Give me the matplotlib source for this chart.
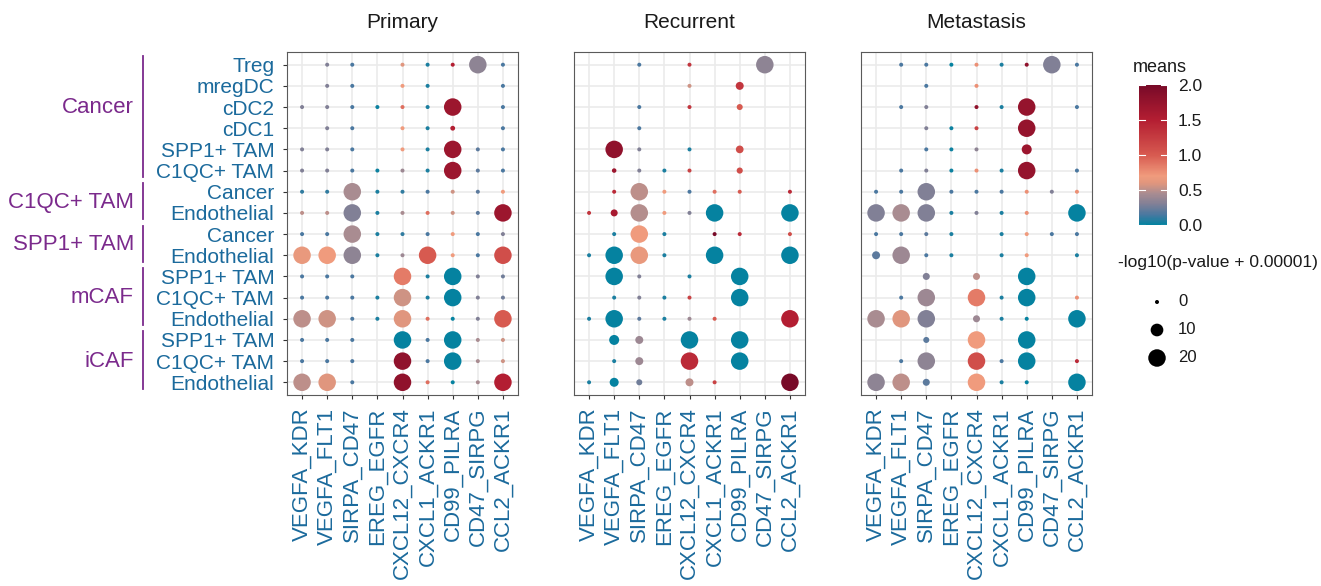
import numpy as np
import matplotlib
matplotlib.use('Agg')
import matplotlib.pyplot as plt
from matplotlib.colors import LinearSegmentedColormap, Normalize
from matplotlib import transforms
from matplotlib.cm import ScalarMappable

plt.rcParams['font.family'] = ['Liberation Sans', 'DejaVu Sans']

na = np.nan

# ---- data ----
panels = ['Primary', 'Recurrent', 'Metastasis']
pairs = ['VEGFA_KDR', 'VEGFA_FLT1', 'SIRPA_CD47', 'EREG_EGFR', 'CXCL12_CXCR4',
         'CXCL1_ACKR1', 'CD99_PILRA', 'CD47_SIRPG', 'CCL2_ACKR1']
row_labels = ['Treg', 'mregDC', 'cDC2', 'cDC1', 'SPP1+ TAM', 'C1QC+ TAM',
              'Cancer', 'Endothelial', 'Cancer', 'Endothelial',
              'SPP1+ TAM', 'C1QC+ TAM', 'Endothelial',
              'SPP1+ TAM', 'C1QC+ TAM', 'Endothelial']
groups = ['Cancer', 'C1QC+ TAM', 'SPP1+ TAM', 'mCAF', 'iCAF']
group_rows = [(0, 5), (6, 7), (8, 9), (10, 12), (13, 15)]

primary_means = [
    [na, .30, .15, na, .60, .05, 1.5, .35, .15],
    [na, .30, .15, na, .70, .05, na, na, .15],
    [.30, .30, .15, .02, .90, .05, 1.7, na, .15],
    [na, .30, .15, na, .70, .05, 1.5, na, .15],
    [.30, .30, .15, na, .70, .05, 1.7, .20, .15],
    [.30, .30, .15, .02, .40, .05, 1.7, .20, .15],
    [.10, .10, .45, .05, .10, .15, .55, .20, .70],
    [.50, .50, .30, .05, .45, .90, .55, .20, 1.7],
    [.15, .15, .45, .05, .10, .15, .70, .15, .30],
    [.65, .70, .35, .05, .40, 1.0, .70, .15, 1.1],
    [.15, .15, .15, na, .85, .05, 0, .30, .25],
    [.15, .15, .15, .05, .55, .05, 0, .30, .25],
    [.50, .55, .15, .05, .60, .90, 0, .30, 1.0],
    [.15, .15, .15, na, 0, .15, 0, .45, .55],
    [.15, .15, .15, na, 1.8, .15, 0, .45, .55],
    [.50, .60, .15, na, 1.8, .90, 0, .45, 1.5],
]
primary_size = [
    [na, 0, 0, na, 0, 0, 0, 20, 0],
    [na, 0, 0, na, 0, 0, na, na, 0],
    [0, 0, 0, 0, 0, 0, 20, na, 0],
    [na, 0, 0, na, 0, 0, .5, na, 0],
    [0, 0, 0, na, 0, 0, 20, 0, 0],
    [0, 0, 0, 0, 0, 0, 20, 0, 0],
    [0, 0, 20, 0, 0, 0, 0, 0, 0],
    [0, 0, 20, 0, 0, 0, 0, 0, 20],
    [0, 0, 20, 0, 0, 0, 0, 0, 0],
    [20, 20, 20, 0, 0, 20, 0, 0, 20],
    [0, 0, 0, na, 20, 0, 20, 0, 0],
    [0, 0, 0, 0, 20, 0, 20, 0, 0],
    [20, 20, 0, 0, 20, 0, 0, 0, 20],
    [0, 0, 0, na, 20, 0, 20, 0, 0],
    [0, 0, 0, na, 20, 0, 20, 0, 0],
    [20, 20, 0, na, 20, 0, 0, 0, 20],
]

recurrent_means = [
    [na, na, .15, na, 1.3, na, na, .35, na],
    [na, na, na, na, .55, na, 1.3, na, na],
    [na, na, .15, na, 1.3, na, 1.0, na, na],
    [na, na, .15, na, na, na, na, na, na],
    [na, 1.8, .30, na, .05, na, 1.1, na, na],
    [na, 1.7, .30, .05, 1.2, na, 1.1, na, na],
    [na, 1.4, .50, .70, .15, .90, 1.0, na, 1.4],
    [1.3, 1.6, .48, .70, .30, 0, na, na, 0],
    [na, .05, .70, .05, na, 2.0, 1.4, na, 1.1],
    [.05, 0, .65, .05, na, 0, na, na, 0],
    [na, 0, .30, na, .05, na, 0, na, na],
    [na, .05, .30, .05, 1.2, na, 0, na, na],
    [.05, 0, .20, .05, .40, 1.0, na, na, 1.5],
    [na, 0, .40, na, 0, na, 0, na, na],
    [na, .05, .40, na, 1.4, na, 0, na, na],
    [.05, 0, .25, na, .50, 1.2, na, na, 2.0],
]
recurrent_size = [
    [na, na, 0, na, 0, na, na, 20, na],
    [na, na, na, na, 0, na, 3.3, na, na],
    [na, na, 0, na, 0, na, 1.4, na, na],
    [na, na, 0, na, na, na, na, na, na],
    [na, 20, 0, na, 0, na, 3.0, na, na],
    [na, .3, 0, 0, 0, na, 1.5, na, na],
    [na, 0, 20, 0, 0, 0, 0, na, 0],
    [0, 2.3, 20, 0, 0, 20, na, na, 20],
    [na, 0, 20, 0, na, 0, 0, na, 0],
    [0, 20, 20, 0, na, 20, na, na, 20],
    [na, 20, 0, na, 0, na, 20, na, na],
    [na, 0, 0, 0, 0, na, 20, na, na],
    [0, 20, 0, 0, 0, 0, na, na, 20],
    [na, 5.8, 3.3, na, 20, na, 20, na, na],
    [na, 0, 3.3, na, 20, na, 20, na, na],
    [0, 4.5, 1.4, na, 3.3, 0, na, na, 20],
]

metastasis_means = [
    [na, .15, .15, 0, .75, .05, 1.8, .30, .15],
    [na, na, .15, na, .75, na, na, na, na],
    [na, .15, .30, na, 1.8, .05, 1.75, na, .15],
    [na, na, .30, .02, 1.2, na, 1.75, na, na],
    [na, na, .15, .02, .35, na, 1.7, na, na],
    [na, .15, .30, .02, .75, .05, 1.75, na, .15],
    [.15, .15, .30, .15, .15, .15, .75, .30, .75],
    [.30, .45, .30, .05, .30, .05, .75, na, 0],
    [.15, .15, .20, .05, na, .05, .70, .15, .15],
    [.20, .40, .15, .05, na, .05, .70, na, .05],
    [na, na, .30, na, .50, na, 0, na, na],
    [na, .15, .40, na, .85, .05, 0, na, .75],
    [.45, .60, .30, na, .40, .05, 0, na, 0],
    [na, na, .20, na, .70, na, 0, na, na],
    [na, .15, .35, na, 1.1, .15, 0, na, 1.4],
    [.35, .50, .20, na, .70, .05, 0, na, 0],
]
metastasis_size = [
    [na, 0, 0, 0, 0, 0, 0, 20, 0],
    [na, na, 0, na, 0, na, na, na, na],
    [na, 0, 0, na, 0, 0, 20, na, 0],
    [na, na, 0, 0, 0, na, 20, na, na],
    [na, na, 0, 0, 0, na, 5.8, na, na],
    [na, 0, 0, 0, 0, 0, 20, na, 0],
    [0, 0, 20, 0, 0, 0, 0, 0, 0],
    [20, 20, 20, 0, 0, 0, 0, na, 20],
    [0, 0, 0, 0, na, 0, 0, 0, 0],
    [3.3, 20, 0, 0, na, 0, 0, na, 0],
    [na, na, 2.3, na, 2.3, na, 20, na, na],
    [na, 0, 20, na, 20, 0, 20, na, 0],
    [20, 20, 20, na, 2.3, 0, 0, na, 20],
    [na, na, 1.4, na, 20, na, 20, na, na],
    [na, 0, 20, na, 20, 0, 20, na, 0],
    [20, 20, 2.3, na, 20, 0, 0, na, 20],
]

panel_means = [primary_means, recurrent_means, metastasis_means]
panel_size = [primary_size, recurrent_size, metastasis_size]
size_breaks = [0, 10, 20]
mean_ticks = [0.0, 0.5, 1.0, 1.5, 2.0]

# ---- styling ----
cmap = LinearSegmentedColormap.from_list('means', [
    (0.000, '#0582A0'), (0.075, '#4B78A0'), (0.150, '#828096'),
    (0.225, '#AA8C91'), (0.300, '#E1967D'), (0.350, '#F09B7D'),
    (0.500, '#D75A50'), (0.750, '#B41E32'), (1.000, '#780A28')])
norm = Normalize(0, 2)
BLUE = '#1B6A9C'
PURPLE = '#7B2A8C'


def dot_area(v):
    d_px = np.sqrt(16 + 14.5 * np.asarray(v, dtype=float))
    return (d_px * 0.72) ** 2


W, H = 1321, 586
fig = plt.figure(figsize=(W / 100, H / 100), dpi=100)
lefts = [287, 574, 861]
axes = []
for i, name in enumerate(panels):
    ax = fig.add_axes([lefts[i] / W, 1 - 395 / H, 231 / W, 343 / H])
    axes.append(ax)
    m = np.array(panel_means[i], dtype=float)
    s = np.array(panel_size[i], dtype=float)
    rr, cc = np.where(~np.isnan(m))
    ax.scatter(cc, rr, s=dot_area(s[rr, cc]), c=m[rr, cc], cmap=cmap,
               norm=norm, linewidths=0, zorder=3)
    ax.set_xlim(-0.6, len(pairs) - 0.4)
    ax.set_ylim(len(row_labels) - 0.4, -0.6)
    ax.set_xticks(range(len(pairs)))
    ax.set_xticklabels(pairs, rotation=90, fontsize=16, color=BLUE)
    ax.set_yticks(range(len(row_labels)))
    ax.tick_params(length=3, width=0.8, color='#333333', pad=6)
    if i == 0:
        ax.set_yticklabels(row_labels, fontsize=15, color=BLUE)
    else:
        ax.set_yticklabels([])
        ax.tick_params(axis='y', length=0)
    ax.grid(True, color='#EBEBEB', linewidth=1.2, zorder=0)
    ax.set_axisbelow(True)
    for sp in ax.spines.values():
        sp.set_color('#5A5A5A')
        sp.set_linewidth(0.8)
    ax.set_title(name, fontsize=15, color='#1A1A1A', pad=17)

# overlay in pixel coords for brackets and legends
ov = fig.add_axes([0, 0, 1, 1])
ov.set_xlim(0, W)
ov.set_ylim(H, 0)
ov.axis('off')
ov.patch.set_alpha(0)

tr = transforms.blended_transform_factory(ov.transData, axes[0].transData)
label_rows = [2, 6.5, 8.5, 11, 14]
for g, (r0, r1), ly in zip(groups, group_rows, label_rows):
    ov.plot([143, 143], [r0 - 0.4, r1 + 0.3], color=PURPLE, lw=1.3,
            transform=tr, clip_on=False)
    ov.text(134, ly, g, ha='right', va='center', fontsize=16, color=PURPLE,
            transform=tr)

# colour bar
cax = fig.add_axes([1139 / W, 1 - 225 / H, 28 / W, 140 / H])
cb = fig.colorbar(ScalarMappable(norm=norm, cmap=cmap), cax=cax)
cb.outline.set_visible(False)
cb.set_ticks(mean_ticks)
cb.set_ticklabels([f'{t:.1f}' for t in mean_ticks])
cax.tick_params(length=0, labelsize=12.5, pad=8, labelcolor='#1A1A1A')
for t in mean_ticks:
    cax.plot([0, 0.2], [t, t], color='white', lw=0.8)
    cax.plot([0.8, 1], [t, t], color='white', lw=0.8)
ov.text(1160, 68, 'means', ha='center', va='center', fontsize=13, color='#1A1A1A')

# size legend
ov.text(1118, 262, '-log10(p-value + 0.00001)', ha='left', va='center',
        fontsize=12.5, color='#1A1A1A')
ys = [302, 330, 358]
ov.scatter([1157] * len(size_breaks), ys, s=dot_area(size_breaks), color='black',
           linewidths=0)
for v, y in zip(size_breaks, ys):
    ov.text(1178, y, str(v), ha='left', va='center', fontsize=12, color='#1A1A1A')

fig.savefig('out.png', dpi=100)
